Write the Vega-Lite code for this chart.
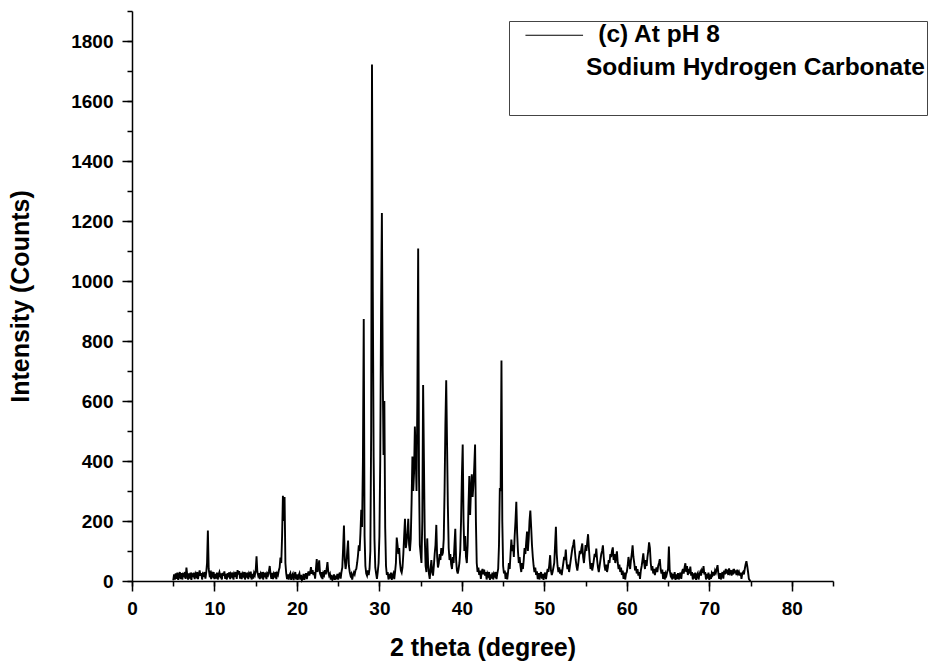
{
  "$schema": "https://vega.github.io/schema/vega-lite/v6.json",
  "autosize": "none",
  "width": 701,
  "height": 570,
  "padding": {"left": 132, "top": 11, "right": 99, "bottom": 83},
  "background": "white",
  "config": {
    "view": {"stroke": null},
    "font": "Liberation Sans",
    "axis": {
      "grid": false,
      "domainColor": "black",
      "domainWidth": 1.5,
      "tickColor": "black",
      "tickWidth": 1.5,
      "labelFont": "Liberation Sans",
      "labelFontWeight": "bold",
      "labelFontSize": 19,
      "labelColor": "black",
      "labelFlush": false,
      "labelOverlap": false,
      "titleFont": "Liberation Sans",
      "titleFontWeight": "bold",
      "titleFontSize": 25,
      "titleColor": "black"
    }
  },
  "data": {"values": [
{"t":5.0,"c":2},{"t":5.1,"c":22},{"t":5.2,"c":5},{"t":5.3,"c":25},{"t":5.4,"c":7},{"t":5.5,"c":28},{"t":5.6,"c":4},{"t":5.7,"c":20},{"t":5.8,"c":30},{"t":5.9,"c":6},
{"t":6.0,"c":26},{"t":6.1,"c":5},{"t":6.2,"c":22},{"t":6.3,"c":18},{"t":6.4,"c":30},{"t":6.5,"c":7},{"t":6.6,"c":45},{"t":6.7,"c":20},{"t":6.8,"c":5},{"t":6.9,"c":25},
{"t":7.0,"c":8},{"t":7.1,"c":28},{"t":7.2,"c":4},{"t":7.3,"c":22},{"t":7.4,"c":18},{"t":7.5,"c":27},{"t":7.6,"c":6},{"t":7.7,"c":24},{"t":7.8,"c":17},{"t":7.9,"c":30},
{"t":8.0,"c":6},{"t":8.1,"c":22},{"t":8.2,"c":35},{"t":8.3,"c":18},{"t":8.4,"c":26},{"t":8.5,"c":5},{"t":8.6,"c":24},{"t":8.7,"c":20},{"t":8.8,"c":30},{"t":8.9,"c":8},
{"t":9.0,"c":28},{"t":9.1,"c":60},{"t":9.2,"c":168},{"t":9.3,"c":40},{"t":9.4,"c":20},{"t":9.5,"c":26},{"t":9.6,"c":6},{"t":9.7,"c":25},{"t":9.8,"c":18},{"t":9.9,"c":30},
{"t":10.0,"c":6},{"t":10.1,"c":24},{"t":10.2,"c":8},{"t":10.3,"c":28},{"t":10.4,"c":5},{"t":10.5,"c":22},{"t":10.6,"c":30},{"t":10.7,"c":17},{"t":10.8,"c":25},{"t":10.9,"c":5},
{"t":11.0,"c":27},{"t":11.1,"c":18},{"t":11.2,"c":32},{"t":11.3,"c":7},{"t":11.4,"c":24},{"t":11.5,"c":5},{"t":11.6,"c":26},{"t":11.7,"c":19},{"t":11.8,"c":29},{"t":11.9,"c":6},
{"t":12.0,"c":23},{"t":12.1,"c":17},{"t":12.2,"c":28},{"t":12.3,"c":5},{"t":12.4,"c":25},{"t":12.5,"c":20},{"t":12.6,"c":30},{"t":12.7,"c":7},{"t":12.8,"c":36},{"t":12.9,"c":22},
{"t":13.0,"c":33},{"t":13.1,"c":8},{"t":13.2,"c":27},{"t":13.3,"c":6},{"t":13.4,"c":24},{"t":13.5,"c":18},{"t":13.6,"c":30},{"t":13.7,"c":5},{"t":13.8,"c":22},{"t":13.9,"c":17},
{"t":14.0,"c":28},{"t":14.1,"c":6},{"t":14.2,"c":25},{"t":14.3,"c":19},{"t":14.4,"c":31},{"t":14.5,"c":5},{"t":14.6,"c":24},{"t":14.7,"c":8},{"t":14.8,"c":27},{"t":14.9,"c":20},
{"t":15.0,"c":35},{"t":15.1,"c":82},{"t":15.2,"c":30},{"t":15.3,"c":18},{"t":15.4,"c":26},{"t":15.5,"c":6},{"t":15.6,"c":24},{"t":15.7,"c":17},{"t":15.8,"c":30},{"t":15.9,"c":5},
{"t":16.0,"c":23},{"t":16.1,"c":18},{"t":16.2,"c":28},{"t":16.3,"c":6},{"t":16.4,"c":25},{"t":16.5,"c":20},{"t":16.6,"c":32},{"t":16.7,"c":50},{"t":16.8,"c":22},{"t":16.9,"c":7},
{"t":17.0,"c":27},{"t":17.1,"c":6},{"t":17.2,"c":24},{"t":17.3,"c":18},{"t":17.4,"c":30},{"t":17.5,"c":6},{"t":17.6,"c":25},{"t":17.7,"c":20},{"t":17.8,"c":35},{"t":17.9,"c":45},
{"t":18.0,"c":78},{"t":18.1,"c":60},{"t":18.2,"c":150},{"t":18.3,"c":284},{"t":18.4,"c":200},{"t":18.5,"c":280},{"t":18.6,"c":60},{"t":18.7,"c":25},{"t":18.8,"c":6},{"t":18.9,"c":22},
{"t":19.0,"c":5},{"t":19.1,"c":20},{"t":19.2,"c":26},{"t":19.3,"c":4},{"t":19.4,"c":18},{"t":19.5,"c":24},{"t":19.6,"c":3},{"t":19.7,"c":20},{"t":19.8,"c":30},{"t":19.9,"c":5},
{"t":20.0,"c":22},{"t":20.1,"c":4},{"t":20.2,"c":18},{"t":20.3,"c":25},{"t":20.4,"c":5},{"t":20.5,"c":20},{"t":20.6,"c":3},{"t":20.7,"c":8},{"t":20.8,"c":24},{"t":20.9,"c":4},
{"t":21.0,"c":18},{"t":21.1,"c":26},{"t":21.2,"c":6},{"t":21.3,"c":22},{"t":21.4,"c":32},{"t":21.5,"c":18},{"t":21.6,"c":28},{"t":21.7,"c":46},{"t":21.8,"c":24},{"t":21.9,"c":36},
{"t":22.0,"c":20},{"t":22.1,"c":30},{"t":22.2,"c":8},{"t":22.3,"c":40},{"t":22.4,"c":73},{"t":22.5,"c":30},{"t":22.6,"c":45},{"t":22.7,"c":69},{"t":22.8,"c":25},{"t":22.9,"c":18},
{"t":23.0,"c":30},{"t":23.1,"c":6},{"t":23.2,"c":26},{"t":23.3,"c":20},{"t":23.4,"c":36},{"t":23.5,"c":22},{"t":23.6,"c":40},{"t":23.7,"c":63},{"t":23.8,"c":30},{"t":23.9,"c":18},
{"t":24.0,"c":24},{"t":24.1,"c":5},{"t":24.2,"c":20},{"t":24.3,"c":4},{"t":24.4,"c":8},{"t":24.5,"c":22},{"t":24.6,"c":4},{"t":24.7,"c":18},{"t":24.8,"c":6},{"t":24.9,"c":24},
{"t":25.0,"c":5},{"t":25.1,"c":20},{"t":25.2,"c":28},{"t":25.3,"c":8},{"t":25.4,"c":30},{"t":25.5,"c":45},{"t":25.6,"c":110},{"t":25.7,"c":185},{"t":25.8,"c":70},{"t":25.9,"c":40},
{"t":26.0,"c":60},{"t":26.1,"c":100},{"t":26.2,"c":135},{"t":26.3,"c":50},{"t":26.4,"c":30},{"t":26.5,"c":18},{"t":26.6,"c":24},{"t":26.7,"c":5},{"t":26.8,"c":20},{"t":26.9,"c":28},
{"t":27.0,"c":22},{"t":27.1,"c":36},{"t":27.2,"c":40},{"t":27.3,"c":60},{"t":27.4,"c":85},{"t":27.5,"c":119},{"t":27.6,"c":100},{"t":27.7,"c":160},{"t":27.8,"c":237},{"t":27.9,"c":180},
{"t":28.0,"c":400},{"t":28.1,"c":873},{"t":28.2,"c":150},{"t":28.3,"c":50},{"t":28.4,"c":25},{"t":28.5,"c":18},{"t":28.6,"c":35},{"t":28.7,"c":20},{"t":28.8,"c":40},{"t":28.9,"c":100},
{"t":29.0,"c":500},{"t":29.1,"c":1722},{"t":29.2,"c":963},{"t":29.3,"c":412},{"t":29.4,"c":140},{"t":29.5,"c":45},{"t":29.6,"c":25},{"t":29.7,"c":7},{"t":29.8,"c":30},{"t":29.9,"c":60},
{"t":30.0,"c":150},{"t":30.1,"c":400},{"t":30.2,"c":900},{"t":30.3,"c":1227},{"t":30.4,"c":700},{"t":30.5,"c":420},{"t":30.6,"c":600},{"t":30.7,"c":180},{"t":30.8,"c":50},{"t":30.9,"c":20},
{"t":31.0,"c":30},{"t":31.1,"c":5},{"t":31.2,"c":24},{"t":31.3,"c":8},{"t":31.4,"c":28},{"t":31.5,"c":4},{"t":31.6,"c":20},{"t":31.7,"c":26},{"t":31.8,"c":6},{"t":31.9,"c":30},
{"t":32.0,"c":60},{"t":32.1,"c":145},{"t":32.2,"c":120},{"t":32.3,"c":90},{"t":32.4,"c":110},{"t":32.5,"c":60},{"t":32.6,"c":35},{"t":32.7,"c":28},{"t":32.8,"c":45},{"t":32.9,"c":90},
{"t":33.0,"c":150},{"t":33.1,"c":207},{"t":33.2,"c":110},{"t":33.3,"c":130},{"t":33.4,"c":160},{"t":33.5,"c":207},{"t":33.6,"c":120},{"t":33.7,"c":100},{"t":33.8,"c":140},{"t":33.9,"c":260},
{"t":34.0,"c":415},{"t":34.1,"c":300},{"t":34.2,"c":360},{"t":34.3,"c":515},{"t":34.4,"c":420},{"t":34.5,"c":300},{"t":34.6,"c":600},{"t":34.7,"c":1108},{"t":34.8,"c":350},{"t":34.9,"c":120},
{"t":35.0,"c":90},{"t":35.1,"c":60},{"t":35.2,"c":200},{"t":35.3,"c":653},{"t":35.4,"c":400},{"t":35.5,"c":145},{"t":35.6,"c":50},{"t":35.7,"c":30},{"t":35.8,"c":142},{"t":35.9,"c":60},
{"t":36.0,"c":25},{"t":36.1,"c":7},{"t":36.2,"c":40},{"t":36.3,"c":70},{"t":36.4,"c":30},{"t":36.5,"c":18},{"t":36.6,"c":50},{"t":36.7,"c":90},{"t":36.8,"c":120},{"t":36.9,"c":187},
{"t":37.0,"c":80},{"t":37.1,"c":45},{"t":37.2,"c":60},{"t":37.3,"c":90},{"t":37.4,"c":70},{"t":37.5,"c":110},{"t":37.6,"c":85},{"t":37.7,"c":95},{"t":37.8,"c":140},{"t":37.9,"c":300},
{"t":38.0,"c":520},{"t":38.1,"c":669},{"t":38.2,"c":461},{"t":38.3,"c":250},{"t":38.4,"c":110},{"t":38.5,"c":70},{"t":38.6,"c":90},{"t":38.7,"c":55},{"t":38.8,"c":40},{"t":38.9,"c":80},
{"t":39.0,"c":60},{"t":39.1,"c":120},{"t":39.2,"c":174},{"t":39.3,"c":70},{"t":39.4,"c":35},{"t":39.5,"c":25},{"t":39.6,"c":40},{"t":39.7,"c":60},{"t":39.8,"c":100},{"t":39.9,"c":200},
{"t":40.0,"c":350},{"t":40.1,"c":455},{"t":40.2,"c":200},{"t":40.3,"c":100},{"t":40.4,"c":150},{"t":40.5,"c":80},{"t":40.6,"c":60},{"t":40.7,"c":120},{"t":40.8,"c":250},{"t":40.9,"c":350},
{"t":41.0,"c":220},{"t":41.1,"c":300},{"t":41.2,"c":356},{"t":41.3,"c":280},{"t":41.4,"c":320},{"t":41.5,"c":380},{"t":41.6,"c":455},{"t":41.7,"c":200},{"t":41.8,"c":60},{"t":41.9,"c":30},
{"t":42.0,"c":45},{"t":42.1,"c":20},{"t":42.2,"c":35},{"t":42.3,"c":7},{"t":42.4,"c":30},{"t":42.5,"c":40},{"t":42.6,"c":22},{"t":42.7,"c":38},{"t":42.8,"c":18},{"t":42.9,"c":30},
{"t":43.0,"c":5},{"t":43.1,"c":25},{"t":43.2,"c":18},{"t":43.3,"c":30},{"t":43.4,"c":4},{"t":43.5,"c":22},{"t":43.6,"c":8},{"t":43.7,"c":28},{"t":43.8,"c":5},{"t":43.9,"c":24},
{"t":44.0,"c":18},{"t":44.1,"c":30},{"t":44.2,"c":6},{"t":44.3,"c":26},{"t":44.4,"c":40},{"t":44.5,"c":120},{"t":44.6,"c":310},{"t":44.7,"c":300},{"t":44.8,"c":735},{"t":44.9,"c":200},
{"t":45.0,"c":50},{"t":45.1,"c":25},{"t":45.2,"c":35},{"t":45.3,"c":7},{"t":45.4,"c":28},{"t":45.5,"c":5},{"t":45.6,"c":30},{"t":45.7,"c":60},{"t":45.8,"c":40},{"t":45.9,"c":90},
{"t":46.0,"c":138},{"t":46.1,"c":100},{"t":46.2,"c":120},{"t":46.3,"c":80},{"t":46.4,"c":150},{"t":46.5,"c":200},{"t":46.6,"c":264},{"t":46.7,"c":160},{"t":46.8,"c":100},{"t":46.9,"c":60},
{"t":47.0,"c":80},{"t":47.1,"c":50},{"t":47.2,"c":30},{"t":47.3,"c":60},{"t":47.4,"c":40},{"t":47.5,"c":70},{"t":47.6,"c":110},{"t":47.7,"c":90},{"t":47.8,"c":130},{"t":47.9,"c":165},
{"t":48.0,"c":100},{"t":48.1,"c":140},{"t":48.2,"c":200},{"t":48.3,"c":235},{"t":48.4,"c":180},{"t":48.5,"c":120},{"t":48.6,"c":80},{"t":48.7,"c":50},{"t":48.8,"c":30},{"t":48.9,"c":45},
{"t":49.0,"c":20},{"t":49.1,"c":32},{"t":49.2,"c":6},{"t":49.3,"c":26},{"t":49.4,"c":5},{"t":49.5,"c":22},{"t":49.6,"c":30},{"t":49.7,"c":8},{"t":49.8,"c":24},{"t":49.9,"c":4},
{"t":50.0,"c":20},{"t":50.1,"c":28},{"t":50.2,"c":6},{"t":50.3,"c":25},{"t":50.4,"c":40},{"t":50.5,"c":30},{"t":50.6,"c":55},{"t":50.7,"c":86},{"t":50.8,"c":35},{"t":50.9,"c":20},
{"t":51.0,"c":30},{"t":51.1,"c":45},{"t":51.2,"c":60},{"t":51.3,"c":120},{"t":51.4,"c":181},{"t":51.5,"c":90},{"t":51.6,"c":50},{"t":51.7,"c":30},{"t":51.8,"c":45},{"t":51.9,"c":25},
{"t":52.0,"c":38},{"t":52.1,"c":20},{"t":52.2,"c":40},{"t":52.3,"c":60},{"t":52.4,"c":80},{"t":52.5,"c":70},{"t":52.6,"c":105},{"t":52.7,"c":60},{"t":52.8,"c":40},{"t":52.9,"c":55},
{"t":53.0,"c":30},{"t":53.1,"c":50},{"t":53.2,"c":70},{"t":53.3,"c":90},{"t":53.4,"c":110},{"t":53.5,"c":120},{"t":53.6,"c":138},{"t":53.7,"c":100},{"t":53.8,"c":70},{"t":53.9,"c":50},
{"t":54.0,"c":35},{"t":54.1,"c":55},{"t":54.2,"c":80},{"t":54.3,"c":100},{"t":54.4,"c":90},{"t":54.5,"c":110},{"t":54.6,"c":125},{"t":54.7,"c":80},{"t":54.8,"c":60},{"t":54.9,"c":90},
{"t":55.0,"c":120},{"t":55.1,"c":100},{"t":55.2,"c":130},{"t":55.3,"c":156},{"t":55.4,"c":110},{"t":55.5,"c":70},{"t":55.6,"c":40},{"t":55.7,"c":60},{"t":55.8,"c":35},{"t":55.9,"c":50},
{"t":56.0,"c":70},{"t":56.1,"c":90},{"t":56.2,"c":80},{"t":56.3,"c":108},{"t":56.4,"c":70},{"t":56.5,"c":45},{"t":56.6,"c":30},{"t":56.7,"c":50},{"t":56.8,"c":70},{"t":56.9,"c":90},
{"t":57.0,"c":100},{"t":57.1,"c":119},{"t":57.2,"c":80},{"t":57.3,"c":50},{"t":57.4,"c":35},{"t":57.5,"c":55},{"t":57.6,"c":30},{"t":57.7,"c":45},{"t":57.8,"c":70},{"t":57.9,"c":60},
{"t":58.0,"c":90},{"t":58.1,"c":80},{"t":58.2,"c":100},{"t":58.3,"c":112},{"t":58.4,"c":70},{"t":58.5,"c":90},{"t":58.6,"c":60},{"t":58.7,"c":80},{"t":58.8,"c":99},{"t":58.9,"c":60},
{"t":59.0,"c":40},{"t":59.1,"c":55},{"t":59.2,"c":30},{"t":59.3,"c":45},{"t":59.4,"c":20},{"t":59.5,"c":35},{"t":59.6,"c":7},{"t":59.7,"c":28},{"t":59.8,"c":5},{"t":59.9,"c":24},
{"t":60.0,"c":30},{"t":60.1,"c":50},{"t":60.2,"c":80},{"t":60.3,"c":60},{"t":60.4,"c":40},{"t":60.5,"c":70},{"t":60.6,"c":90},{"t":60.7,"c":119},{"t":60.8,"c":80},{"t":60.9,"c":60},
{"t":61.0,"c":35},{"t":61.1,"c":50},{"t":61.2,"c":25},{"t":61.3,"c":40},{"t":61.4,"c":18},{"t":61.5,"c":30},{"t":61.6,"c":7},{"t":61.7,"c":35},{"t":61.8,"c":50},{"t":61.9,"c":70},
{"t":62.0,"c":92},{"t":62.1,"c":60},{"t":62.2,"c":40},{"t":62.3,"c":70},{"t":62.4,"c":50},{"t":62.5,"c":80},{"t":62.6,"c":100},{"t":62.7,"c":129},{"t":62.8,"c":110},{"t":62.9,"c":60},
{"t":63.0,"c":35},{"t":63.1,"c":50},{"t":63.2,"c":25},{"t":63.3,"c":40},{"t":63.4,"c":20},{"t":63.5,"c":35},{"t":63.6,"c":45},{"t":63.7,"c":30},{"t":63.8,"c":50},{"t":63.9,"c":60},
{"t":64.0,"c":73},{"t":64.1,"c":40},{"t":64.2,"c":25},{"t":64.3,"c":38},{"t":64.4,"c":7},{"t":64.5,"c":30},{"t":64.6,"c":5},{"t":64.7,"c":25},{"t":64.8,"c":18},{"t":64.9,"c":30},
{"t":65.0,"c":40},{"t":65.1,"c":115},{"t":65.2,"c":35},{"t":65.3,"c":20},{"t":65.4,"c":28},{"t":65.5,"c":5},{"t":65.6,"c":24},{"t":65.7,"c":8},{"t":65.8,"c":30},{"t":65.9,"c":4},
{"t":66.0,"c":22},{"t":66.1,"c":6},{"t":66.2,"c":26},{"t":66.3,"c":5},{"t":66.4,"c":20},{"t":66.5,"c":28},{"t":66.6,"c":7},{"t":66.7,"c":30},{"t":66.8,"c":40},{"t":66.9,"c":25},
{"t":67.0,"c":45},{"t":67.1,"c":59},{"t":67.2,"c":30},{"t":67.3,"c":50},{"t":67.4,"c":20},{"t":67.5,"c":40},{"t":67.6,"c":25},{"t":67.7,"c":48},{"t":67.8,"c":18},{"t":67.9,"c":30},
{"t":68.0,"c":5},{"t":68.1,"c":25},{"t":68.2,"c":8},{"t":68.3,"c":28},{"t":68.4,"c":4},{"t":68.5,"c":20},{"t":68.6,"c":26},{"t":68.7,"c":5},{"t":68.8,"c":22},{"t":68.9,"c":30},
{"t":69.0,"c":18},{"t":69.1,"c":35},{"t":69.2,"c":28},{"t":69.3,"c":50},{"t":69.4,"c":22},{"t":69.5,"c":30},{"t":69.6,"c":5},{"t":69.7,"c":24},{"t":69.8,"c":8},{"t":69.9,"c":28},
{"t":70.0,"c":4},{"t":70.1,"c":22},{"t":70.2,"c":7},{"t":70.3,"c":26},{"t":70.4,"c":20},{"t":70.5,"c":30},{"t":70.6,"c":18},{"t":70.7,"c":35},{"t":70.8,"c":28},{"t":70.9,"c":40},
{"t":71.0,"c":53},{"t":71.1,"c":25},{"t":71.2,"c":7},{"t":71.3,"c":26},{"t":71.4,"c":5},{"t":71.5,"c":22},{"t":71.6,"c":30},{"t":71.7,"c":8},{"t":71.8,"c":35},{"t":71.9,"c":22},
{"t":72.0,"c":40},{"t":72.1,"c":25},{"t":72.2,"c":38},{"t":72.3,"c":20},{"t":72.4,"c":42},{"t":72.5,"c":28},{"t":72.6,"c":36},{"t":72.7,"c":18},{"t":72.8,"c":30},{"t":72.9,"c":22},
{"t":73.0,"c":40},{"t":73.1,"c":26},{"t":73.2,"c":35},{"t":73.3,"c":20},{"t":73.4,"c":38},{"t":73.5,"c":24},{"t":73.6,"c":30},{"t":73.7,"c":18},{"t":73.8,"c":28},{"t":73.9,"c":7},
{"t":74.0,"c":25},{"t":74.1,"c":30},{"t":74.2,"c":22},{"t":74.3,"c":40},{"t":74.4,"c":55},{"t":74.5,"c":66},{"t":74.6,"c":50},{"t":74.7,"c":30},{"t":74.8,"c":7},{"t":74.9,"c":3},
{"t":75.0,"c":0}
  ]},
  "layer": [
    {
      "mark": {"type": "line", "strokeWidth": 1.9},
      "encoding": {
        "x": {
          "field": "t", "type": "quantitative",
          "scale": {"domain": [0, 85], "nice": false, "zero": false},
          "axis": {
            "orient": "bottom",
            "title": "2 theta (degree)",
            "values": [0,10,20,30,40,50,60,70,80],
            "tickSize": 10,
            "labelPadding": 8,
            "titlePadding": 17
          }
        },
        "y": {
          "field": "c", "type": "quantitative",
          "scale": {"domain": [0, 1900], "nice": false},
          "axis": {
            "orient": "left",
            "title": "Intensity (Counts)",
            "values": [0,200,400,600,800,1000,1200,1400,1600,1800],
            "format": "d",
            "tickSize": 10,
            "labelPadding": 9,
            "titlePadding": 37
          }
        },
        "color": {
          "datum": "\u200b\u2002(c) At pH 8",
          "type": "nominal",
          "scale": {
            "domain": ["\u200b\u2002(c) At pH 8", "Sodium Hydrogen Carbonate", "\u200b"],
            "range": ["black", "transparent", "transparent"]
          },
          "legend": {
            "title": null,
            "orient": "none",
            "legendX": 377,
            "legendY": 10,
            "padding": 2,
            "strokeColor": "#444",
            "symbolType": "M-3.2,0H3.2",
            "symbolSize": 324,
            "symbolStrokeWidth": 1,
            "symbolOffset": 31,
            "labelOffset": 19.5,
            "labelFont": "Liberation Sans",
            "labelFontWeight": "bold",
            "labelFontSize": 24.5,
            "labelColor": "black",
            "labelLimit": 500,
            "rowPadding": 8
          }
        }
      }
    },
    {
      "mark": {"type": "line", "strokeOpacity": 0},
      "encoding": {
        "x": {
          "field": "t", "type": "quantitative",
          "axis": {
            "orient": "bottom",
            "title": null,
            "values": [0,5,10,15,20,25,30,35,40,45,50,55,60,65,70,75,80,85],
            "tickSize": 5,
            "labels": false,
            "domain": false
          }
        },
        "y": {
          "field": "c", "type": "quantitative",
          "axis": {
            "orient": "left",
            "title": null,
            "values": [0,100,200,300,400,500,600,700,800,900,1000,1100,1200,1300,1400,1500,1600,1700,1800,1900],
            "tickSize": 5,
            "labels": false,
            "domain": false
          }
        }
      }
    }
  ],
  "resolve": {"axis": {"x": "independent", "y": "independent"}}
}
